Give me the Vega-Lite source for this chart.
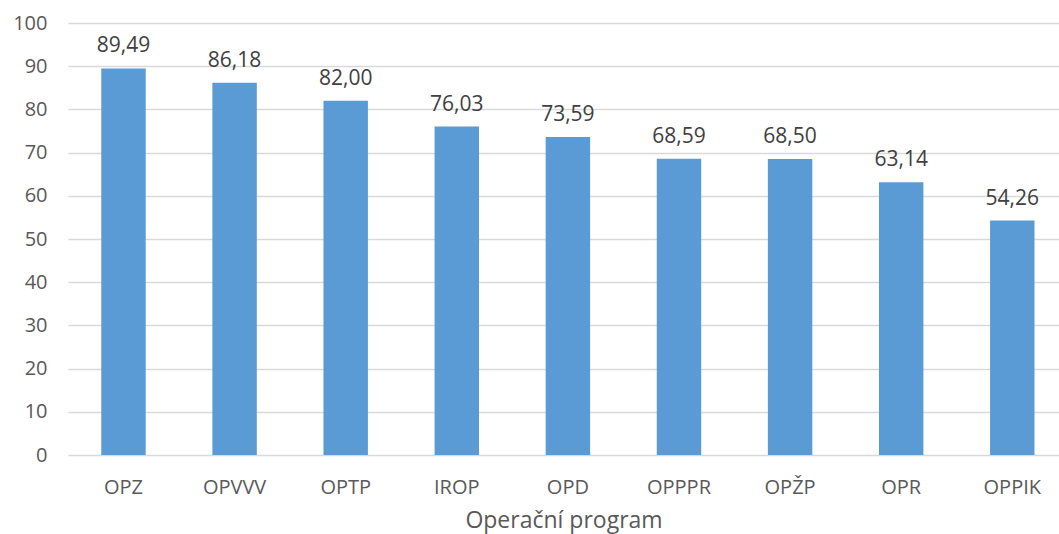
{
  "$schema": "https://vega.github.io/schema/vega-lite/v6.json",
  "width": 991,
  "height": 432,
  "autosize": {"type": "none"},
  "padding": {"left": 68, "top": 23, "right": 0, "bottom": 79},
  "background": "white",
  "config": {
    "view": {"stroke": null},
    "font": "Open Sans",
    "locale": {"number": {"decimal": ",", "thousands": " ", "grouping": [3], "currency": ["", " Kč"]}}
  },
  "data": {
    "values": [
      {"program": "OPZ", "value": 89.49},
      {"program": "OPVVV", "value": 86.18},
      {"program": "OPTP", "value": 82.00},
      {"program": "IROP", "value": 76.03},
      {"program": "OPD", "value": 73.59},
      {"program": "OPPPR", "value": 68.59},
      {"program": "OPŽP", "value": 68.50},
      {"program": "OPR", "value": 63.14},
      {"program": "OPPIK", "value": 54.26}
    ]
  },
  "encoding": {
    "x": {
      "field": "program",
      "type": "nominal",
      "sort": null,
      "scale": {"paddingInner": 0.6, "paddingOuter": 0.26, "align": 0.576},
      "axis": {
        "title": "Operační program",
        "titleFont": "Open Sans",
        "titleFontSize": 23,
        "titleFontWeight": "normal",
        "titleColor": "#595959",
        "titlePadding": 12,
        "labelAngle": 0,
        "labelFontSize": 20,
        "labelColor": "#595959",
        "labelPadding": 22,
        "ticks": false,
        "domain": false
      }
    },
    "y": {
      "field": "value",
      "type": "quantitative",
      "scale": {"domain": [0, 100], "nice": false},
      "axis": {
        "title": null,
        "values": [0, 10, 20, 30, 40, 50, 60, 70, 80, 90, 100],
        "labelFontSize": 20,
        "labelColor": "#595959",
        "labelPadding": 21,
        "ticks": false,
        "domain": false,
        "gridColor": "#D9D9D9",
        "gridWidth": 1.3
      }
    }
  },
  "layer": [
    {"mark": {"type": "bar", "color": "#5B9BD5"}},
    {
      "mark": {"type": "text", "baseline": "alphabetic", "dy": -16, "fontSize": 21, "color": "#404040"},
      "encoding": {"text": {"field": "value", "type": "quantitative", "format": ".2f"}}
    }
  ]
}
